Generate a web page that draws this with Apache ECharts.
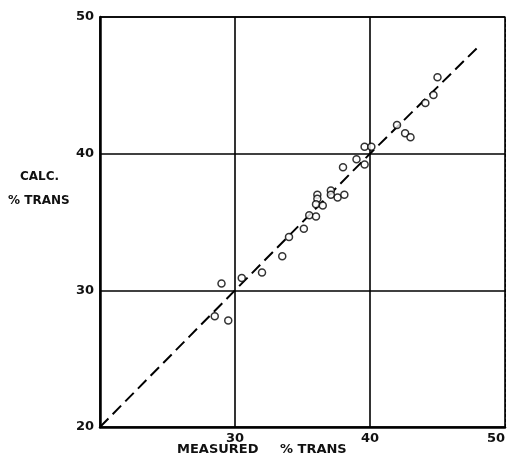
<!DOCTYPE html>
<html>
<head>
<meta charset="utf-8">
<script src="https://cdn.jsdelivr.net/npm/echarts@6/dist/echarts.min.js"></script>
<style>
  html, body { margin: 0; padding: 0; background: #fff; }
  #chart { width: 514px; height: 460px; }
</style>
</head>
<body>
<div id="chart"></div>
<script>
// measured vs calculated % trans
const measured = [29.0, 28.5, 29.5, 30.5, 32.0, 33.5, 34.0, 35.1, 35.5, 36.0, 36.1, 36.1, 36.0, 36.5,
  37.1, 37.1, 37.6, 38.1, 38.0, 39.0, 39.6, 39.6, 40.1, 42.0, 42.6, 43.0, 44.1, 44.7, 45.0];
const calc = [30.5, 28.1, 27.8, 30.9, 31.3, 32.5, 33.9, 34.5, 35.5, 35.4, 37.0, 36.7, 36.3, 36.2,
  37.3, 37.0, 36.8, 37.0, 39.0, 39.6, 39.2, 40.5, 40.5, 42.1, 41.5, 41.2, 43.7, 44.3, 45.6];

// dashed fit line
const lineX = [20, 40, 48];
const lineY = [20, 40, 47.8];

const yTicks = [20, 30, 40, 50];
const xTicks = [30, 40, 50];

const chart = echarts.init(document.getElementById("chart"));

const labelFont = { fontFamily: "DejaVu Sans", fontWeight: "bold", fontSize: 13, color: "#111" };
const titleFont = { fontFamily: "DejaVu Sans", fontWeight: "bold", fontSize: 12, fill: "#111" };

chart.setOption({
  animation: false,
  backgroundColor: "#fff",
  grid: { left: 100, right: 9, top: 17, bottom: 33 },
  xAxis: [
    {
      type: "value", min: 20, max: 50, interval: 10,
      axisLine: { show: true, lineStyle: { color: "#000", width: 2.5 } },
      axisTick: { show: false },
      splitLine: { show: true, lineStyle: { color: "#000", width: 1.6 } },
      axisLabel: {
        ...labelFont, margin: 5, alignMaxLabel: "right",
        formatter: v => (xTicks.includes(v) ? String(v) : ""),
      },
    },
    {
      type: "value", position: "top", min: 20, max: 50, interval: 10,
      axisLine: { show: true, onZero: false, lineStyle: { color: "#000", width: 1.5 } },
      axisTick: { show: false }, axisLabel: { show: false }, splitLine: { show: false },
    },
  ],
  yAxis: [
    {
      type: "value", min: 20, max: 50, interval: 10,
      axisLine: { show: true, lineStyle: { color: "#000", width: 2.5 } },
      axisTick: { show: false },
      splitLine: { show: true, lineStyle: { color: "#000", width: 1.6 } },
      axisLabel: {
        ...labelFont, margin: 6,
        formatter: v => (yTicks.includes(v) ? String(v) : ""),
      },
    },
    {
      type: "value", position: "right", min: 20, max: 50, interval: 10,
      axisLine: { show: true, onZero: false, lineStyle: { color: "#000", width: 1, type: [3, 2] } },
      axisTick: { show: false }, axisLabel: { show: false }, splitLine: { show: false },
    },
  ],
  graphic: [
    { type: "text", left: 20, top: 171, style: { text: "CALC.", ...titleFont } },
    { type: "text", left: 8, top: 195, style: { text: "% TRANS", ...titleFont } },
    { type: "text", left: 177, top: 443, style: { text: "MEASURED", ...titleFont, fontSize: 13 } },
    { type: "text", left: 280, top: 443, style: { text: "% TRANS", ...titleFont, fontSize: 13 } },
  ],
  series: [
    {
      type: "line",
      data: lineX.map((x, i) => [x, lineY[i]]),
      symbol: "none",
      lineStyle: { color: "#000", width: 2, type: [12, 6] },
      z: 3,
    },
    {
      type: "scatter",
      data: measured.map((x, i) => [x, calc[i]]),
      symbol: "circle",
      symbolSize: 7,
      itemStyle: { color: "#fff", borderColor: "#000", borderWidth: 1.5 },
      z: 4,
    },
  ],
});
</script>
</body>
</html>
